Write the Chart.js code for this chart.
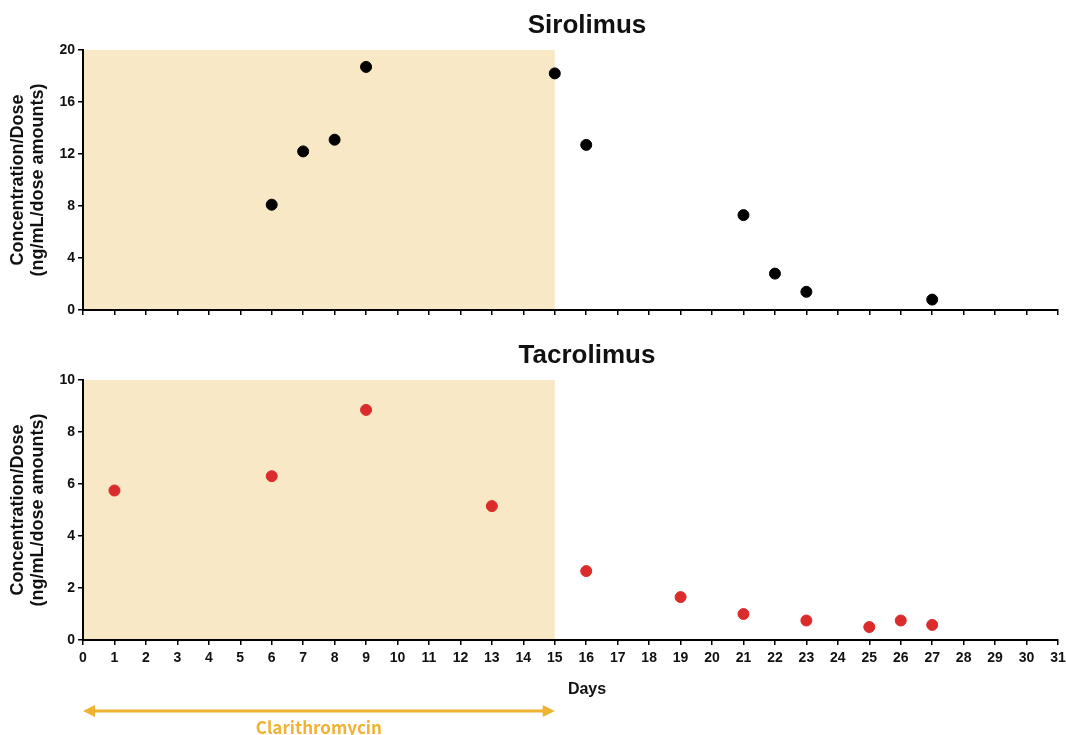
<!DOCTYPE html>
<html>
<head>
<meta charset="utf-8">
<script src="https://cdn.jsdelivr.net/npm/chart.js@4.4.1/dist/chart.umd.min.js"></script>
<style>
  body { margin: 0; background: #fff; }
  #wrap { position: relative; width: 1066px; height: 735px; overflow: hidden; }
  canvas { position: absolute; left: 0; }
  .lbl { position: absolute; font-family: "Liberation Sans", Arial, sans-serif; font-weight: bold; color: #111; text-align: center; white-space: nowrap; }
</style>
</head>
<body>
<div id="wrap">
  <canvas id="siroChart" width="1066" height="330" style="top:0"></canvas>
  <canvas id="tacroChart" width="1066" height="405" style="top:330px"></canvas>
  <div class="lbl" style="left:487px;top:9px;width:200px;font-size:26px;">Sirolimus</div>
  <div class="lbl" style="left:487px;top:339px;width:200px;font-size:26px;">Tacrolimus</div>
  <div class="lbl" style="left:537px;top:680px;width:100px;font-size:16px;">Days</div>
</div>
<script>
// Daten
const siroDays = [6, 7, 8, 9, 15, 16, 21, 22, 23, 27];
const siroValues = [8.1, 12.2, 13.1, 18.7, 18.2, 12.7, 7.3, 2.8, 1.4, 0.8];

const tacroDays = [1, 6, 9, 13, 16, 19, 21, 23, 25, 26, 27];
const tacroValues = [5.75, 6.3, 8.85, 5.15, 2.65, 1.65, 1.0, 0.75, 0.5, 0.75, 0.58];

// Clarithromycin-Zeitraum (Tage)
const clarStart = 0;
const clarEnd = 15;
const dayMin = 0;
const dayMax = 31;

const axisTitle = ['Concentration/Dose', '(ng/mL/dose amounts)'];
const shadeColor = '#f8e8c6';
const arrowColor = '#f0b232';

// Hintergrund fuer den Clarithromycin-Zeitraum
const shadePlugin = {
    id: 'shade',
    beforeDraw(chart) {
        const { ctx, chartArea, scales } = chart;
        const x0 = scales.x.getPixelForValue(clarStart);
        const x1 = scales.x.getPixelForValue(clarEnd);
        ctx.save();
        ctx.fillStyle = shadeColor;
        ctx.fillRect(x0, chartArea.top, x1 - x0, chartArea.bottom - chartArea.top);
        ctx.restore();
    }
};

// Pfeil + Beschriftung unter der unteren Achse
const arrowPlugin = {
    id: 'clarArrow',
    afterDraw(chart) {
        const { ctx, chartArea, scales } = chart;
        const x0 = scales.x.getPixelForValue(clarStart);
        const x1 = scales.x.getPixelForValue(clarEnd);
        const y = chartArea.bottom + 71;
        ctx.save();
        ctx.strokeStyle = arrowColor;
        ctx.fillStyle = arrowColor;
        ctx.lineWidth = 3;
        ctx.beginPath();
        ctx.moveTo(x0 + 8, y);
        ctx.lineTo(x1 - 8, y);
        ctx.stroke();
        ctx.beginPath();
        ctx.moveTo(x0, y);
        ctx.lineTo(x0 + 12, y - 6);
        ctx.lineTo(x0 + 12, y + 6);
        ctx.closePath();
        ctx.fill();
        ctx.beginPath();
        ctx.moveTo(x1, y);
        ctx.lineTo(x1 - 12, y - 6);
        ctx.lineTo(x1 - 12, y + 6);
        ctx.closePath();
        ctx.fill();
        ctx.font = 'bold 17px "Noto Sans CJK JP", "Liberation Sans", sans-serif';
        ctx.textAlign = 'center';
        ctx.textBaseline = 'middle';
        ctx.fillText('Clarithromycin', (x0 + x1) / 2, y + 17);
        ctx.restore();
    }
};

function makeChart(canvasId, days, values, color, yMax, yStep, showXLabels, xHeight) {
    const ctx = document.getElementById(canvasId).getContext('2d');
    return new Chart(ctx, {
        type: 'scatter',
        data: {
            datasets: [{
                data: days.map((d, i) => ({ x: d, y: values[i] })),
                backgroundColor: color,
                borderColor: color,
                pointRadius: 5.5,
                pointHoverRadius: 5.5
            }]
        },
        options: {
            responsive: false,
            animation: false,
            layout: { padding: { left: 0, right: 8, top: 50, bottom: 0 } },
            plugins: {
                legend: { display: false },
                tooltip: { enabled: false }
            },
            scales: {
                x: {
                    type: 'linear',
                    min: dayMin,
                    max: dayMax,
                    ticks: {
                        stepSize: 1,
                        display: showXLabels,
                        color: '#111',
                        padding: 5,
                        font: { family: '"Liberation Sans", Arial, sans-serif', size: 14, weight: 'bold' }
                    },
                    grid: { drawOnChartArea: false, drawTicks: true, tickLength: 5, color: '#000', lineWidth: 1.5 },
                    border: { display: true, color: '#000', width: 2 },
                    afterFit: (scale) => {
                        scale.height = xHeight;
                        // Randabstand fuer die letzte Beschriftung ignorieren
                        scale.paddingLeft = 0;
                        scale.paddingRight = 0;
                    }
                },
                y: {
                    min: 0,
                    max: yMax,
                    ticks: {
                        stepSize: yStep,
                        color: '#111',
                        padding: 3,
                        font: { family: '"Liberation Sans", Arial, sans-serif', size: 14, weight: 'bold' }
                    },
                    grid: { drawOnChartArea: false, drawTicks: true, tickLength: 5, color: '#000', lineWidth: 1.5 },
                    border: { display: true, color: '#000', width: 2 },
                    title: {
                        display: true,
                        text: axisTitle,
                        color: '#111',
                        padding: { top: 8, bottom: 0 },
                        font: { family: '"Liberation Sans", Arial, sans-serif', size: 18, weight: 'bold', lineHeight: 1.12 }
                    },
                    afterFit: (scale) => { scale.width = 83; }
                }
            }
        },
        plugins: showXLabels ? [shadePlugin, arrowPlugin] : [shadePlugin]
    });
}

makeChart('siroChart', siroDays, siroValues, '#000000', 20, 4, false, 20);
makeChart('tacroChart', tacroDays, tacroValues, '#dc2b2b', 10, 2, true, 95);
</script>
</body>
</html>
